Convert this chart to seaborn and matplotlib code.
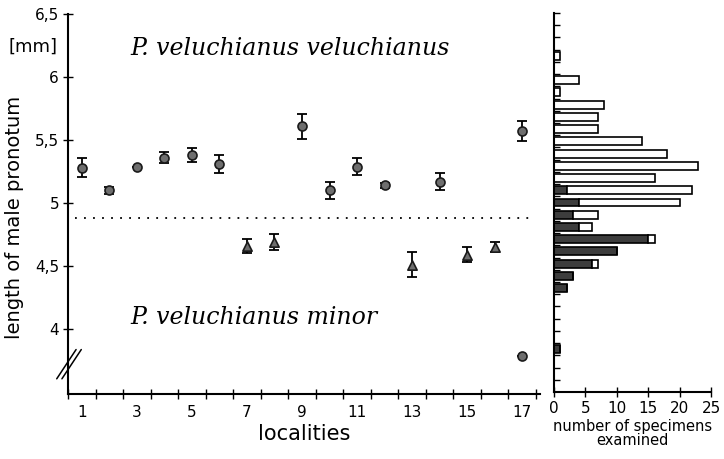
import numpy as np
import pandas as pd
import matplotlib
matplotlib.use("Agg")
import matplotlib.pyplot as plt
import seaborn as sns

# mean length of male pronotum per locality (mm) and error (+/-)
circle_loc = [1, 2, 3, 4, 5, 6, 9, 10, 11, 12, 14, 17, 17]
circle_val = [5.28, 5.10, 5.29, 5.36, 5.38, 5.31, 5.61, 5.10, 5.29, 5.14, 5.17, 5.57, 3.79]
circle_err = [0.075, 0.03, 0.0, 0.045, 0.055, 0.075, 0.10, 0.065, 0.065, 0.02, 0.07, 0.08, 0.0]

tri_loc = [7, 8, 13, 15, 16]
tri_val = [4.66, 4.69, 4.51, 4.59, 4.65]
tri_err = [0.055, 0.065, 0.10, 0.06, 0.04]

split_value = 4.88

# histogram of specimens (bin centres, 0.1 mm bins)
hist_bins = [6.15, 5.95, 5.85, 5.75, 5.65, 5.55, 5.45, 5.35, 5.25, 5.15,
             5.05, 4.95, 4.85, 4.75, 4.65, 4.55, 4.45, 4.35, 4.25, 3.75]
n_minor = [0, 0, 0, 0, 0, 0, 0, 0, 0, 0,
           2, 4, 3, 4, 15, 10, 6, 3, 2, 1]
n_veluchianus = [1, 4, 1, 8, 7, 7, 14, 18, 23, 16,
                 20, 16, 4, 2, 1, 0, 1, 0, 0, 0]

ytick_vals = [4, 4.5, 5, 5.5, 6, 6.5]
ytick_labels = ["4", "4,5", "5", "5,5", "6", "6,5"]
xtick_vals = [1, 3, 5, 7, 9, 11, 13, 15, 17]
hist_ticks = [0, 5, 10, 15, 20, 25]


def main():
    sns.set_style("ticks", {"axes.edgecolor": "black", "text.color": "black",
                            "axes.labelcolor": "black", "xtick.color": "black",
                            "ytick.color": "black"})
    plt.rcParams["font.family"] = ["DejaVu Sans"]

    fig = plt.figure(figsize=(7.24, 4.59), dpi=100)
    ax = fig.add_axes([0.094, 0.1416, 0.652, 0.8279])
    hx = fig.add_axes([0.7652, 0.146, 0.2169, 0.8257])

    # ---- left panel: means with error bars
    ax.errorbar(circle_loc, circle_val, yerr=circle_err, fmt="none",
                ecolor="black", elinewidth=1.3, capsize=3.5, capthick=1.3, zorder=2)
    ax.errorbar(tri_loc, tri_val, yerr=tri_err, fmt="none",
                ecolor="black", elinewidth=1.3, capsize=3.5, capthick=1.3, zorder=2)
    sns.scatterplot(x=circle_loc, y=circle_val, marker="o", s=42,
                    color="#6e6e6e", edgecolor="#1a1a1a", linewidth=1.2, ax=ax, zorder=3)
    sns.scatterplot(x=tri_loc, y=tri_val, marker="^", s=45,
                    color="#6e6e6e", edgecolor="#1a1a1a", linewidth=1.2, ax=ax, zorder=3)

    ax.plot([0.75, 17.4], [split_value, split_value], color="black",
            linestyle=(0, (1, 4)), linewidth=1.3)

    ax.set_xlim(0.5, 17.65)
    ax.set_ylim(3.485, 6.5)
    ax.set_yticks(ytick_vals)
    ax.set_yticklabels(ytick_labels, fontsize=11)
    ax.set_xticks(xtick_vals)
    ax.set_xticklabels([str(v) for v in xtick_vals], fontsize=11)
    ax.set_xticks(np.arange(0.5, 17.6, 1.0), minor=True)
    ax.tick_params(axis="x", which="major", length=0, pad=8)
    ax.tick_params(axis="x", which="minor", direction="inout", length=7, width=1)
    ax.tick_params(axis="y", direction="inout", length=7, width=1, pad=3)
    for s in ["top", "right"]:
        ax.spines[s].set_visible(False)
    for s in ["left", "bottom"]:
        ax.spines[s].set_linewidth(1.5)

    ax.set_xlabel("localities", fontsize=15, labelpad=3)
    ax.set_ylabel("length of male pronotum", fontsize=14)
    ax.yaxis.set_label_coords(-0.094, 0.465)

    ax.text(2.75, 6.23, "P. veluchianus veluchianus", fontsize=17,
            family="DejaVu Serif", style="italic", va="center")
    ax.text(2.75, 4.09, "P. veluchianus minor", fontsize=17,
            family="DejaVu Serif", style="italic", va="center")
    fig.text(0.012, 0.898, "[mm]", fontsize=13, va="center")

    # axis break marks
    for dx in (0.0, 0.011):
        ax.plot([-0.024 + dx, 0.017 + dx], [0.04, 0.117], transform=ax.transAxes,
                color="black", linewidth=1.1, clip_on=False)

    # ---- right panel: stacked histogram
    hist_df = pd.DataFrame({
        "length": hist_bins * 2,
        "count": n_minor + n_veluchianus,
        "form": ["minor"] * len(hist_bins) + ["veluchianus"] * len(hist_bins),
    })
    sns.histplot(data=hist_df, y="length", weights="count", hue="form",
                 hue_order=["veluchianus", "minor"], multiple="stack",
                 binwidth=0.1, binrange=(3.4, 6.5), shrink=0.65,
                 palette={"minor": "#3d3d3d", "veluchianus": "white"},
                 edgecolor="black", linewidth=1.2, alpha=1, legend=False, ax=hx)

    hx.set_xlim(0, 25)
    hx.set_ylim(3.4, 6.5)
    hx.set_xticks(hist_ticks)
    hx.set_xticklabels([str(v) for v in hist_ticks], fontsize=11)
    hx.set_yticks(np.arange(3.5, 6.51, 0.1))
    hx.set_yticklabels([])
    hx.tick_params(axis="y", direction="in", length=4, width=1)
    hx.tick_params(axis="x", direction="inout", length=7, width=1, pad=3)
    hx.set_ylabel("")
    hx.set_xlabel("number of specimens\nexamined", fontsize=10.5,
                  linespacing=0.95, labelpad=2)
    for s in ["top", "right"]:
        hx.spines[s].set_visible(False)
    for s in ["left", "bottom"]:
        hx.spines[s].set_linewidth(1.5)

    fig.savefig("out.png", dpi=100)


if __name__ == "__main__":
    main()
